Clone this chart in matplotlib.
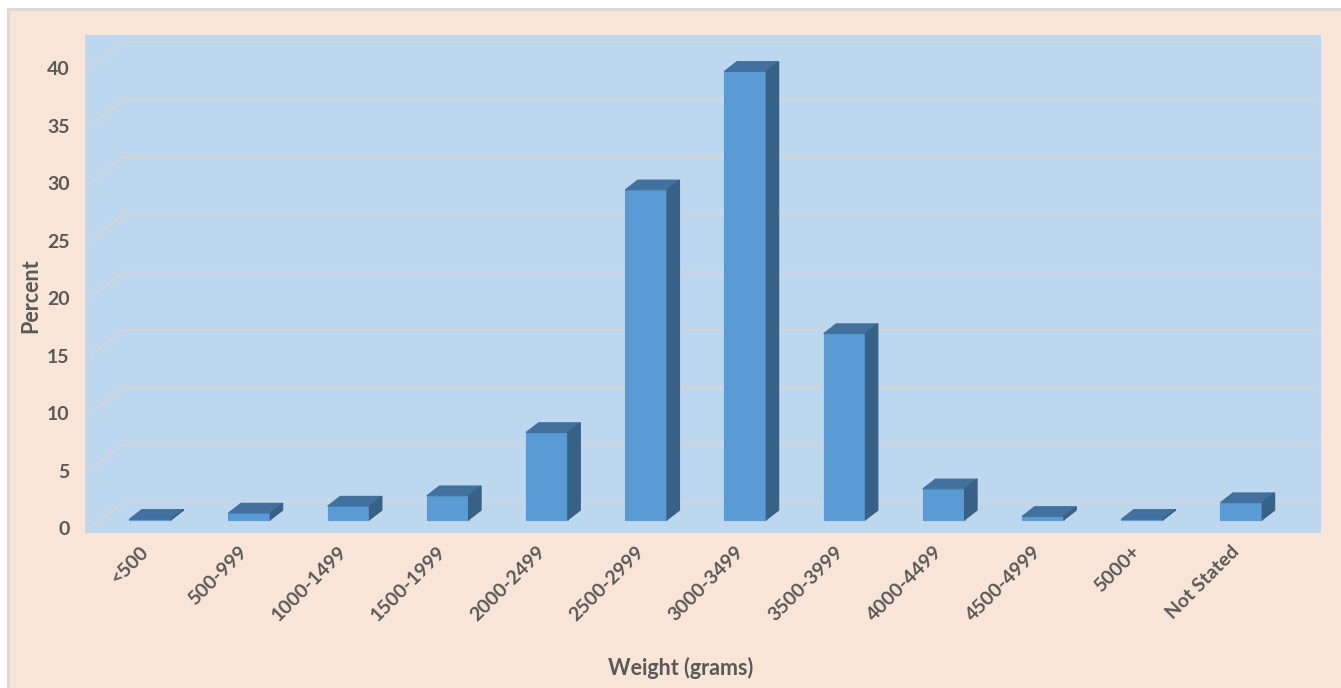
import matplotlib.pyplot as plt
from matplotlib.patches import Polygon, Rectangle

# birth weight distribution
categories = ["<500", "500-999", "1000-1499", "1500-1999", "2000-2499", "2500-2999",
              "3000-3499", "3500-3999", "4000-4499", "4500-4999", "5000+", "Not Stated"]
percent = [0.05, 0.6, 1.2, 2.1, 7.6, 28.7, 39.0, 16.2, 2.7, 0.3, 0.05, 1.5]
yticks = [0, 5, 10, 15, 20, 25, 30, 35, 40]

W, H = 1341, 688
PEACH = "#F9E5D7"
WALL = "#BDD7EE"
GRID = "#CFD5DC"
TXT = "#595959"
FRONT, TOP, SIDE = "#5B9BD5", "#41719C", "#386186"
FONT = ["Lato", "DejaVu Sans"]

# fake 3d: offset of the back wall in data units
DX, DY = 0.333, 2.22
bar_w = 0.42
d0, dd = 0.32, 0.38   # bar front depth and bar thickness (fraction of wall depth)

fig = plt.figure(figsize=(W / 100, H / 100), dpi=100, facecolor="white")
fig.add_artist(Rectangle((8 / W, -0.1), 1.1, (H - 9.5) / H + 0.1,
                         transform=fig.transFigure, facecolor=PEACH,
                         edgecolor="#D9D9D9", linewidth=2.2, zorder=-5))

ax = fig.add_axes([85 / W, 1 - 533 / H, (1321 - 85) / W, (533 - 35) / H])
ax.set_facecolor(WALL)
ax.set_xlim(-0.55, 11.91)
ax.set_ylim(-0.43, 42.87)
for s in ax.spines.values():
    s.set_visible(False)

n = len(categories)
for v in yticks:
    ax.plot([-0.5, -0.5 + DX, n - 0.5 + DX], [v, v + DY, v + DY],
            color=GRID, lw=2, solid_capstyle="butt", zorder=1)

for i, v in enumerate(percent):
    xl = i - bar_w / 2 + d0 * DX
    xr = xl + bar_w
    y0 = d0 * DY
    ox, oy = dd * DX, dd * DY
    ax.add_patch(Rectangle((xl, y0), bar_w, v, facecolor=FRONT, edgecolor=FRONT,
                           lw=0.8, zorder=3))
    ax.add_patch(Polygon([(xl, y0 + v), (xr, y0 + v), (xr + ox, y0 + v + oy),
                          (xl + ox, y0 + v + oy)], closed=True,
                         facecolor=TOP, edgecolor=TOP, lw=0.8, zorder=3))
    ax.add_patch(Polygon([(xr, y0), (xr, y0 + v), (xr + ox, y0 + v + oy),
                          (xr + ox, y0 + oy)], closed=True,
                         facecolor=SIDE, edgecolor=SIDE, lw=0.8, zorder=3))

ax.set_yticks(yticks)
ax.set_yticklabels([str(t) for t in yticks], fontsize=14, fontweight="bold",
                   color=TXT, family=FONT)
ax.set_xticks(range(n))
ax.set_xticklabels(categories, rotation=45, ha="right", rotation_mode="anchor",
                   fontsize=14, fontweight="bold", color=TXT, family=FONT)
ax.tick_params(axis="y", length=0, pad=11)
ax.tick_params(axis="x", length=0, pad=7)

fig.text(681 / W, 1 - 668 / H, "Weight (grams)", ha="center", va="center",
         fontsize=15.5, fontweight="bold", color=TXT, family=FONT)
fig.text(31 / W, 1 - 296 / H, "Percent", ha="center", va="center", rotation=90,
         fontsize=15.5, fontweight="bold", color=TXT, family=FONT)

fig.savefig("out.png", dpi=100, facecolor=fig.get_facecolor())
